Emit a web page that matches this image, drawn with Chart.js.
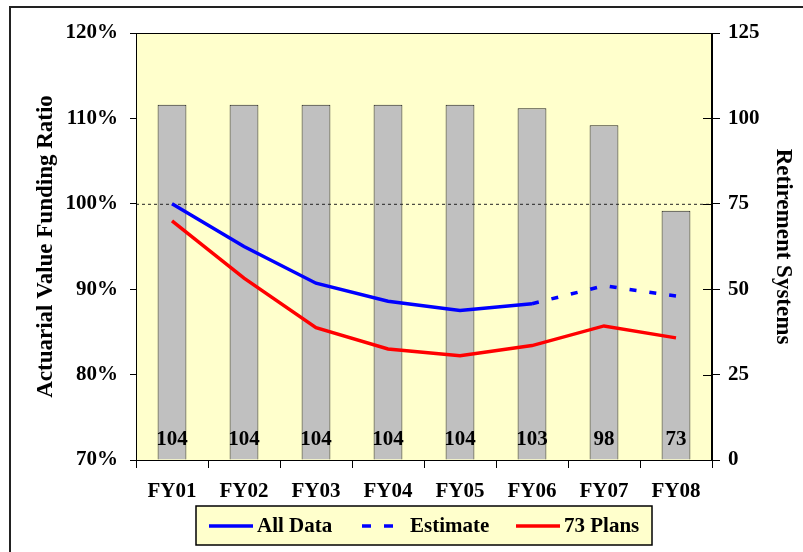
<!DOCTYPE html>
<html>
<head>
<meta charset="utf-8">
<script src="https://cdn.jsdelivr.net/npm/chart.js@4.4.0/dist/chart.umd.min.js"></script>
<style>
  html, body { margin: 0; padding: 0; background: #fff; overflow: hidden; }
  #frame { position: absolute; left: 9px; top: 6px; width: 820px; height: 570px; border: 2px solid #222; }
  #wrap { position: absolute; left: 0; top: 0; width: 803px; height: 552px; }
</style>
</head>
<body>
<div id="frame"></div>
<div id="wrap"><canvas id="chart" width="803" height="552"></canvas></div>
<script>
const years = ["FY01", "FY02", "FY03", "FY04", "FY05", "FY06", "FY07", "FY08"];
const systems = [104, 104, 104, 104, 104, 103, 98, 73];
const allData = [100, 95.0, 90.7, 88.6, 87.5, 88.3, null, null];
const estimate = [null, null, null, null, null, 88.3, 90.4, 89.2];
const plans73 = [98.0, 91.3, 85.5, 83.0, 82.2, 83.4, 85.7, 84.3];

const serif = "'Liberation Serif', 'Times New Roman', serif";
const tickFont = { family: serif, size: 21, weight: "bold" };

// plot background, frame, 100% reference line, bar counts, legend
const decor = {
  id: "decor",
  beforeDatasetsDraw(chart) {
    const { ctx, chartArea: a } = chart;
    ctx.save();
    ctx.fillStyle = "#ffffcc";
    ctx.fillRect(a.left, a.top, a.right - a.left, a.bottom - a.top);
    ctx.restore();
  },
  afterDatasetDraw(chart, args) {
    if (args.index !== 0) return;
    const { ctx, chartArea: a, scales } = chart;
    const y = scales.y.getPixelForValue(100);
    ctx.save();
    ctx.strokeStyle = "#222";
    ctx.lineWidth = 1;
    ctx.setLineDash([3, 3]);
    ctx.beginPath();
    ctx.moveTo(a.left, y + 0.5);
    ctx.lineTo(a.right, y + 0.5);
    ctx.stroke();
    ctx.restore();
  },
  afterDatasetsDraw(chart) {
    const { ctx, chartArea: a, scales } = chart;
    ctx.save();
    // frame of plot area
    ctx.strokeStyle = "#000";
    ctx.lineWidth = 1;
    ctx.strokeRect(a.left + 0.5, a.top + 0.5, a.right - a.left - 1, a.bottom - a.top);
    // inner half of the right axis ticks
    scales.y1.ticks.forEach((t) => {
      const yy = Math.round(scales.y1.getPixelForValue(t.value)) + 0.5;
      ctx.beginPath();
      ctx.moveTo(a.right - 9, yy);
      ctx.lineTo(a.right, yy);
      ctx.stroke();
    });
    // counts inside bars
    ctx.fillStyle = "#000";
    ctx.font = "bold 21px " + serif;
    ctx.textAlign = "center";
    ctx.textBaseline = "middle";
    chart.getDatasetMeta(0).data.forEach((bar, i) => {
      ctx.fillText(String(systems[i]), bar.x, a.bottom - 20);
    });

    // legend
    const lx = 196, ly = 506, lw = 456, lh = 39;
    ctx.fillStyle = "#ffffcc";
    ctx.fillRect(lx, ly, lw, lh);
    ctx.lineWidth = 1.5;
    ctx.strokeStyle = "#000";
    ctx.strokeRect(lx, ly, lw, lh);
    const items = [
      { ds: 1, x: 209 },
      { ds: 2, x: 362 },
      { ds: 3, x: 516 },
    ];
    const cy = ly + 20;
    items.forEach((it) => {
      const d = chart.data.datasets[it.ds];
      ctx.strokeStyle = d.borderColor;
      ctx.lineWidth = 3.5;
      ctx.setLineDash(d.borderDash ? [9, 13] : []);
      ctx.beginPath();
      ctx.moveTo(it.x, cy);
      ctx.lineTo(it.x + 44, cy);
      ctx.stroke();
      ctx.setLineDash([]);
      ctx.fillStyle = "#000";
      ctx.textAlign = "left";
      ctx.fillText(d.label, it.x + 48, cy + 1);
    });
    ctx.restore();
  },
};

new Chart(document.getElementById("chart"), {
  type: "bar",
  data: {
    labels: years,
    datasets: [
      {
        type: "bar",
        label: "Retirement Systems",
        data: systems,
        yAxisID: "y1",
        backgroundColor: "#c0c0c0",
        borderColor: "#222",
        borderWidth: 1,
        barPercentage: 0.4,
        categoryPercentage: 1,
        order: 2,
      },
      {
        type: "line",
        label: "All Data",
        data: allData,
        yAxisID: "y",
        borderColor: "#0000ff",
        borderWidth: 3.5,
        pointRadius: 0,
        tension: 0,
        fill: false,
        order: 1,
      },
      {
        type: "line",
        label: "Estimate",
        data: estimate,
        yAxisID: "y",
        borderColor: "#0000ff",
        borderWidth: 3.5,
        borderDash: [7, 13],
        pointRadius: 0,
        tension: 0,
        fill: false,
        order: 1,
      },
      {
        type: "line",
        label: "73 Plans",
        data: plans73,
        yAxisID: "y",
        borderColor: "#ff0000",
        borderWidth: 3.5,
        pointRadius: 0,
        tension: 0,
        fill: false,
        order: 1,
      },
    ],
  },
  options: {
    responsive: false,
    animation: false,
    layout: { padding: { left: 10, right: 0, top: 33, bottom: 52 } },
    plugins: {
      legend: { display: false },
      tooltip: { enabled: false },
    },
    scales: {
      x: {
        offset: true,
        grid: { offset: true, drawOnChartArea: false, tickLength: 8, color: "#000" },
        border: { color: "#000" },
        ticks: { color: "#000", font: tickFont, padding: 11, maxRotation: 0 },
        afterFit: (s) => { s.height = 40; },
      },
      y: {
        position: "left",
        min: 70,
        max: 120,
        ticks: { stepSize: 10, color: "#000", font: tickFont, padding: 12, callback: (v) => v + "%" },
        grid: { drawOnChartArea: false, tickLength: 6, color: "#000" },
        border: { color: "#000" },
        title: {
          display: true,
          text: "Actuarial Value Funding Ratio",
          color: "#000",
          font: { family: serif, size: 23, weight: "bold" },
          padding: { top: 22, bottom: 0 },
        },
        afterFit: (s) => { s.width = 126; },
      },
      y1: {
        position: "right",
        min: 0,
        max: 125,
        ticks: { stepSize: 25, color: "#000", font: tickFont, padding: 8 },
        grid: { drawOnChartArea: false, tickLength: 8, color: "#000" },
        border: { color: "#000" },
        title: {
          display: true,
          text: "Retirement Systems",
          color: "#000",
          font: { family: serif, size: 23, weight: "bold" },
          padding: { top: 6, bottom: 0 },
        },
        afterFit: (s) => { s.width = 91; },
      },
    },
  },
  plugins: [decor],
});
</script>
</body>
</html>
